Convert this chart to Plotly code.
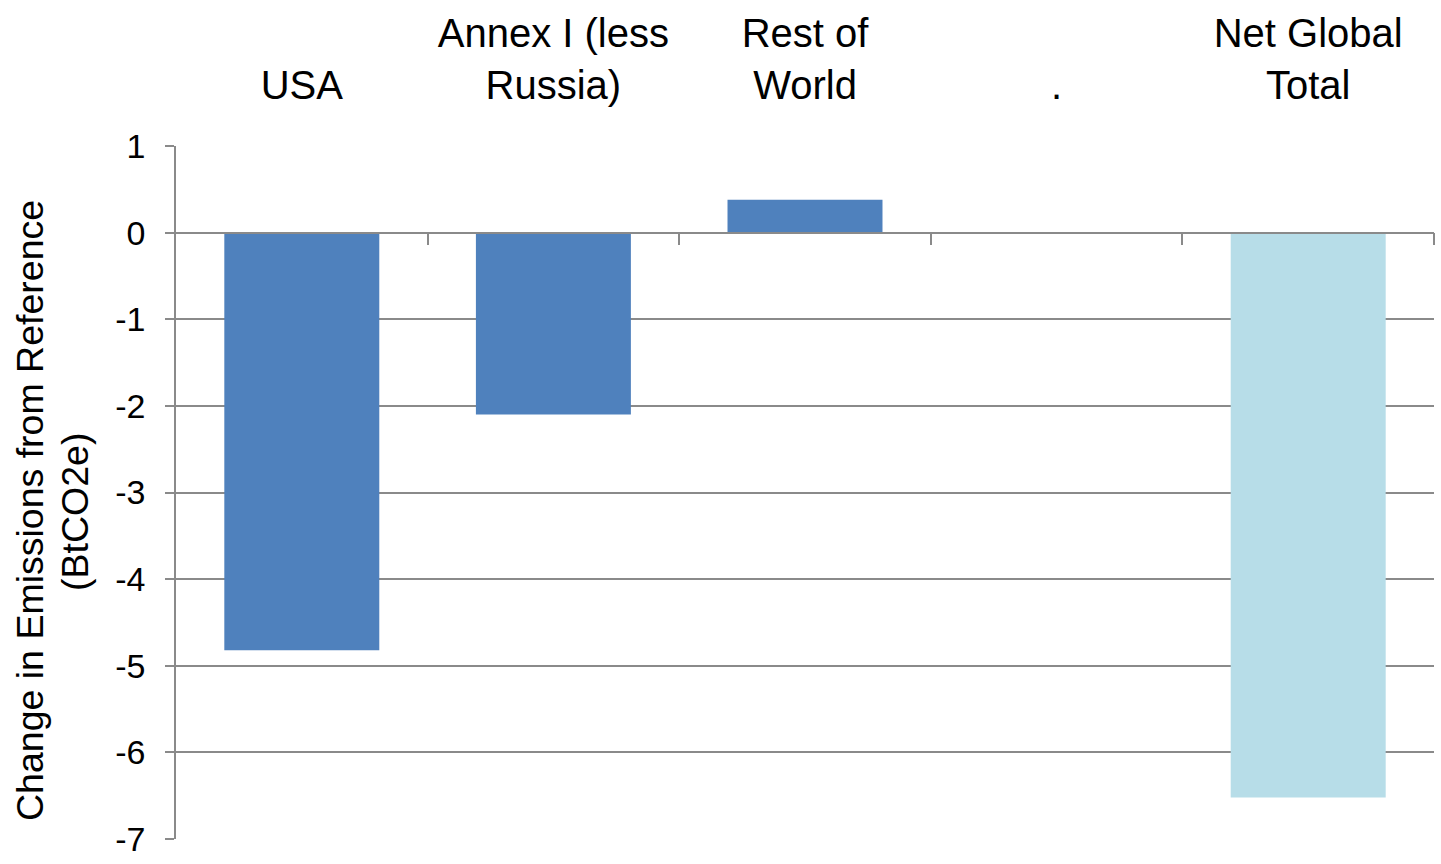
import plotly.graph_objects as go

categories = ["USA", "Annex I (less<br>Russia)", "Rest of<br>World", ".", "Net Global<br>Total"]
values = [-4.82, -2.10, 0.38, 0.0, -6.52]
bar_colors = ["#4F81BD", "#4F81BD", "#4F81BD", "#4F81BD", "#B7DDE8"]
y_range = [-7, 1]
y_ticks = [1, 0, -1, -2, -3, -4, -5, -6, -7]
y_title_1 = "Change in Emissions from Reference"
y_title_2 = "(BtCO2e)"

FONT = "Liberation Sans, Arial, sans-serif"
GRID = "#8a8a8a"

fig = go.Figure()
fig.add_trace(go.Bar(
    x=list(range(len(categories))), y=values,
    marker=dict(color=bar_colors, line=dict(width=0)),
    width=0.616, showlegend=False, hoverinfo="skip",
))

zero_pos = (0 - y_range[0]) / (y_range[1] - y_range[0])

fig.update_layout(
    width=1441, height=864,
    margin=dict(l=176, r=7, t=146, b=25),
    paper_bgcolor="white", plot_bgcolor="white",
    font=dict(family=FONT, color="black"),
    xaxis=dict(
        side="top", range=[-0.5, len(categories) - 0.5],
        tickvals=list(range(len(categories))), ticktext=categories,
        tickfont=dict(size=40, family=FONT, color="black"),
        ticks="", showline=False, showgrid=False, zeroline=False,
        ticklabelstandoff=38,
    ),
    xaxis2=dict(
        overlaying="x", anchor="free", position=zero_pos, side="bottom",
        range=[-0.5, len(categories) - 0.5],
        tickvals=[i + 0.5 for i in range(len(categories))],
        ticks="outside", ticklen=12, tickwidth=1.5, tickcolor=GRID,
        showticklabels=False, showline=True, linecolor=GRID, linewidth=1.5,
        showgrid=False, zeroline=False,
    ),
    yaxis=dict(
        range=y_range, tickvals=y_ticks,
        ticktext=[str(v).replace("\u2212", "-") for v in y_ticks],
        showgrid=True, gridcolor=GRID, gridwidth=1.5,
        zeroline=False,
        showline=True, linecolor=GRID, linewidth=1.5,
        ticks="outside", ticklen=9, tickwidth=1.5, tickcolor=GRID,
        tickfont=dict(size=34, family=FONT, color="black"),
        ticklabelstandoff=13,
    ),
)
fig.add_trace(go.Scatter(x=[None], y=[None], xaxis="x2", yaxis="y",
                         showlegend=False, hoverinfo="skip"))

plot_w = 1441 - 176 - 7
plot_h = 864 - 146 - 25
fig.add_annotation(text=y_title_1, textangle=-90, xref="paper", yref="paper",
                   x=(30 - 176) / plot_w, y=(864 - 25 - 511) / plot_h,
                   xanchor="center", yanchor="middle", showarrow=False,
                   font=dict(size=37.5, family=FONT, color="black"))
fig.add_annotation(text=y_title_2, textangle=-90, xref="paper", yref="paper",
                   x=(75 - 176) / plot_w, y=(864 - 25 - 512) / plot_h,
                   xanchor="center", yanchor="middle", showarrow=False,
                   font=dict(size=37.5, family=FONT, color="black"))

fig.write_html("out.html")
